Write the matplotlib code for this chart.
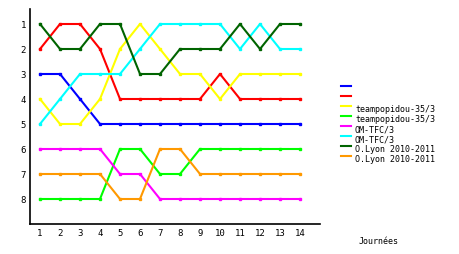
import matplotlib
matplotlib.use("Agg")
import matplotlib.pyplot as plt
from matplotlib.lines import Line2D

# Journees and rank of each series
journees = list(range(1, 15))
blue = [3, 3, 4, 5, 5, 5, 5, 5, 5, 5, 5, 5, 5, 5]
red = [2, 1, 1, 2, 4, 4, 4, 4, 4, 3, 4, 4, 4, 4]
yellow = [4, 5, 5, 4, 2, 1, 2, 3, 3, 4, 3, 3, 3, 3]
green = [8, 8, 8, 8, 6, 6, 7, 7, 6, 6, 6, 6, 6, 6]
magenta = [6, 6, 6, 6, 7, 7, 8, 8, 8, 8, 8, 8, 8, 8]
cyan = [5, 4, 3, 3, 3, 2, 1, 1, 1, 1, 2, 1, 2, 2]
darkgreen = [1, 2, 2, 1, 1, 3, 3, 2, 2, 2, 1, 2, 1, 1]
orange = [7, 7, 7, 7, 8, 8, 6, 6, 7, 7, 7, 7, 7, 7]

series = [blue, red, yellow, green, magenta, cyan, darkgreen, orange]
labels = ["", "", "teampopidou-35/3", "teampopidou-35/3", "OM-TFC/3", "OM-TFC/3",
          "O.Lyon 2010-2011", "O.Lyon 2010-2011"]
colors = ["#0000ff", "#ff0000", "#ffff00", "#00ff00", "#ff00ff", "#00ffff", "#006400", "#ff9900"]
ranks = list(range(1, 9))

font = "DejaVu Sans Mono"

fig = plt.figure(figsize=(4.6, 2.55), dpi=100)
ax = fig.add_axes([30 / 460, 1 - 225 / 255, 290 / 460, 215 / 255])

for vals, c in zip(series, colors):
    ax.plot(journees, vals, color=c, lw=1.5, marker="s", ms=2, mec=c, mfc=c)

ax.set_xlim(0.5, 15)
ax.set_ylim(9, 0.4)
ax.set_xticks(journees)
ax.set_yticks(ranks)
ax.tick_params(length=0, labelsize=6.5, pad=3)
for t in ax.get_xticklabels() + ax.get_yticklabels():
    t.set_family(font)
ax.spines["top"].set_visible(False)
ax.spines["right"].set_visible(False)
ax.spines["left"].set_linewidth(1.2)
ax.spines["bottom"].set_linewidth(1.2)

fig.text(359 / 460, 1 - 242 / 255, "Journées", family=font, fontsize=6, ha="left", va="center")

# legend drawn by hand: swatch above, text slightly below
for i, (lab, c) in enumerate(zip(labels, colors)):
    y = 86.5 + i * 10
    fig.add_artist(Line2D([341 / 460, 351 / 460], [1 - y / 255, 1 - y / 255], color=c, lw=1.5))
    if lab:
        fig.text(355 / 460, 1 - (y + 3.5) / 255, lab, family=font, fontsize=6, ha="left", va="center")

fig.savefig("out.png", dpi=100)
